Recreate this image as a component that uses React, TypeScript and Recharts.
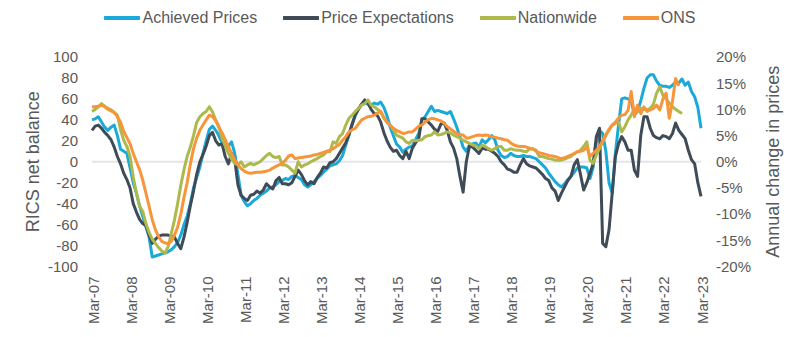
import React from 'react';
import { LineChart, Line, XAxis, YAxis, ReferenceLine, Legend } from 'recharts';

const tickLabels = ['Mar-07','Mar-08','Mar-09','Mar-10','Mar-11','Mar-12','Mar-13','Mar-14','Mar-15','Mar-16','Mar-17','Mar-18','Mar-19','Mar-20','Mar-21','Mar-22','Mar-23'];
const leftTicks = [-100, -80, -60, -40, -20, 0, 20, 40, 60, 80, 100];
const rightTicks = [-20, -15, -10, -5, 0, 5, 10, 15, 20];

// RICS net balance, monthly from Mar-07
const achieved = [
  40, 41, 43, 38, 33, 30, 33, 35, 25, 12, 10, 8,
  -6, -20, -30, -42, -52, -62, -72, -91, -90, -89, -88, -87,
  -86, -84, -81, -77, -70, -60, -52, -40, -25, -15, -5, 8,
  20, 31, 34, 30, 25, 18, 14, 15, 19, 8, -12, -32,
  -38, -42, -40, -37, -35, -32, -30, -28, -25, -24, -22, -19,
  -18, -16, -17, -14, -13, -15, -17, -22, -24, -22, -19, -16,
  -13, -10, -7, -4, -3, -2, 1, 6, 16, 25, 35, 44,
  51, 55, 56, 55, 54, 56, 55, 57, 52, 44, 33, 25,
  17, 14, 9, 12, 14, 15, 21, 27, 40, 43, 48, 53,
  48, 49, 48, 47, 46, 48, 41, 33, 24, 14, 10, 16,
  17, 18, 14, 21, 18, 21, 25, 21, 11, 6, 4, 5,
  8, 6, 5, 5, 6, 5, 5, 4, 3, 0, -3, -6,
  -11, -15, -19, -22, -24, -21, -17, -14, -10, -6, -5, -5,
  -6, -16, -5, 18, 30, 27, 10, -20, -30, 8, 35, 60,
  61, 60, 58, 45, 48, 58, 70, 80, 83, 83, 77, 73,
  72, 72, 71, 73, 76, 75, 79, 73, 76, 67, 62, 52,
  32,
];

const expectations = [
  30, 34, 35, 32, 28, 25, 21, 14, 5, -2, -11, -17,
  -25, -40, -48, -55, -59, -61, -70, -78, -74, -71, -70, -70,
  -70, -71, -72, -78, -83, -72, -58, -42, -28, -12, 0, 7,
  15, 25, 28, 20, 16, 17, 5, -2, 8, 2, -22, -32,
  -35, -37, -32, -31, -28, -30, -27, -21, -24, -26, -18, -15,
  -21, -21, -22, -20, -14, -8, -12, -18, -22, -19, -21, -15,
  -11, -5, -6, -1, 0, 3, 8, 13, 18, 26, 36, 45,
  50, 55, 59, 56, 50, 46, 44, 38, 28, 20, 14, 10,
  11, 6, 3, 10, 3, 13, 18, 22, 41, 41, 38, 35,
  31, 29, 36, 37, 30, 19, 13, 3, -14, -29, 0, 15,
  14, 11, 8, 13, 12, 12, 10, 8, 5, 0, -3, -7,
  -8, -10, -10, -3, 3, -2, -4, -5, -6, -9, -12, -16,
  -18, -25, -28, -37, -30, -24, -18, -14, -3, 2, -12, -27,
  -20, -11, -2, 24, 32, -78, -81, -65, -30, 5, 17, 24,
  19, 11, 11, -8, -14, 25, 43, 43, 32, 25, 23, 22,
  25, 24, 22, 27, 37, 30, 26, 22, 11, 2, -2, -20,
  -33,
];

// Annual change in prices (%)
const nationwide = [
  9.6, 10.0, 10.5, 11.1, 10.6, 10.2, 9.9, 9.4, 8.9, 6.1, 4.1, 2.9,
  1.0, -2.9, -6.0, -8.5, -9.5, -11.8, -13.5, -14.8, -15.6, -16.4, -17.0, -17.5,
  -16.2, -13.7, -11.1, -8.0, -4.5, -1.5, 1.0, 2.8, 5.0, 7.5, 8.6, 9.2,
  9.6, 10.5, 9.5, 8.0, 6.7, 4.5, 3.0, 1.6, 0.5, -0.3, -0.6, 0.0,
  -1.0, -0.6, -0.3, -0.6, -0.3, 0.0, 0.6, 1.2, 1.6, 1.0, 0.8, 1.0,
  -0.6, -0.6, -1.0, -1.6, -2.2, 0.0, -1.0, -0.6, -0.4, 0.0, 0.3, 0.6,
  1.0, 1.3, 1.9, 1.9, 3.8, 3.5, 4.8, 5.4, 7.0, 8.3, 8.9, 9.6,
  10.2, 10.8, 11.1, 11.8, 10.8, 10.5, 10.0, 9.6, 8.3, 7.5, 7.0, 6.1,
  5.1, 4.8, 4.5, 3.8, 3.5, 4.1, 4.0, 4.1, 4.2, 4.8, 5.0, 5.1,
  5.7, 5.1, 5.2, 5.4, 5.7, 5.5, 5.1, 4.8, 4.5, 4.1, 3.8, 3.5,
  3.2, 3.0, 2.5, 3.2, 2.9, 2.5, 2.2, 2.5, 2.9, 2.9, 2.2, 2.2,
  2.5, 2.3, 2.2, 2.2, 2.0, 1.9, 2.5, 2.4, 2.2, 1.0, 1.0, 0.8,
  0.6, 0.5, 0.3, 0.3, 0.3, 0.5, 0.8, 1.0, 1.6, 1.9, 2.2, 2.9,
  3.8, 0.3, -0.3, 1.3, 2.5, 3.8, 5.0, 6.2, 7.0, 7.3, 7.6, 5.7,
  6.7, 8.0, 8.9, 10.2, 9.6, 10.2, 10.0, 9.9, 10.2, 11.0, 13.1, 14.3,
  12.7, 12.0, 11.2, 10.5, 10.0, 9.6, 9.2,
];

const ons = [
  10.5, 10.5, 10.6, 10.8, 10.5, 10.0, 9.7, 9.4, 8.6, 7.6, 5.8, 4.6,
  3.4, 1.6, 0.0, -1.5, -3.5, -6.0, -8.5, -11.1, -13.0, -14.3, -15.2, -15.5,
  -15.6, -15.2, -14.0, -12.5, -10.0, -6.8, -4.0, -0.5, 2.5, 4.5, 6.0, 7.0,
  8.0, 8.9, 8.6, 7.8, 6.6, 5.5, 4.2, 2.9, 1.6, 0.4, -0.6, -1.3,
  -1.8, -2.1, -2.2, -2.1, -2.0, -2.0, -1.9, -1.8, -1.6, -1.2, -0.9, -0.6,
  -0.3, 0.3, 1.1, 1.3, 0.6, 0.7, 0.8, 0.9, 1.0, 1.1, 1.3, 1.4,
  1.6, 1.8, 2.0, 2.2, 2.5, 2.9, 3.3, 4.1, 4.8, 5.7, 6.1, 6.4,
  7.2, 8.0, 8.3, 8.6, 8.7, 8.9, 9.3, 9.6, 8.5, 7.6, 7.0, 6.4,
  6.0, 5.7, 5.4, 5.5, 5.7, 5.7, 6.2, 6.8, 7.0, 7.6, 8.0, 8.3,
  8.2, 8.0, 7.8, 7.4, 6.7, 6.3, 5.8, 5.4, 5.2, 5.1, 4.5, 4.6,
  4.8, 5.0, 5.1, 5.0, 5.1, 5.0, 4.8, 4.7, 4.5, 4.4, 4.2, 4.1,
  3.6, 3.2, 3.0, 2.9, 2.9, 2.8, 2.6, 2.5, 2.0, 1.7, 1.6, 1.4,
  1.2, 1.1, 1.0, 0.8, 0.6, 0.8, 1.0, 1.3, 1.5, 1.9, 2.0, 2.2,
  2.8, 1.0, 1.6, 2.2, 2.9, 4.0, 5.2, 6.0, 7.0, 7.6, 8.3, 8.9,
  9.0, 9.8, 13.4, 8.6, 10.8, 9.2, 10.5, 9.6, 9.9, 10.2, 10.8, 9.9,
  12.0, 13.1, 8.3, 11.5, 15.9, 14.5,
];

const series = [
  { key: 'achieved', name: 'Achieved Prices', color: '#1aa9d9', axis: 'left' },
  { key: 'expectations', name: 'Price Expectations', color: '#3f4c57', axis: 'left' },
  { key: 'nationwide', name: 'Nationwide', color: '#adb94a', axis: 'right' },
  { key: 'ons', name: 'ONS', color: '#f7953b', axis: 'right' },
];

const data = achieved.map((a, i) => ({
  i,
  achieved: a,
  expectations: expectations[i],
  nationwide: i < nationwide.length ? nationwide[i] : null,
  ons: i < ons.length ? ons[i] : null,
}));

const FONT = '"Liberation Sans", Arial, sans-serif';
const TEXT = '#595959';

const LegendContent = () => (
  <div style={{ height: 57, boxSizing: 'border-box', paddingTop: 8, display: 'flex', justifyContent: 'center', alignItems: 'flex-start', fontFamily: FONT, fontSize: 16, color: TEXT }}>
    {series.map((s, k) => (
      <div key={s.key} style={{ display: 'flex', alignItems: 'center', height: 20, marginLeft: k === 0 ? 0 : 26 }}>
        <svg width={36} height={6} style={{ display: 'block' }}>
          <line x1={1} y1={3} x2={35} y2={3} stroke={s.color} strokeWidth={4} strokeLinecap="round" />
        </svg>
        <span style={{ marginLeft: 2, lineHeight: '20px', whiteSpace: 'nowrap' }}>{s.name}</span>
      </div>
    ))}
  </div>
);

const AxisTitle = (text: string, dxFromLeft: number) => (props: any) => {
  const vb = props.viewBox || {};
  const x = (vb.x || 0) + dxFromLeft;
  const y = (vb.y || 0) + (vb.height || 0) / 2;
  return (
    <text x={x} y={y} transform={`rotate(-90, ${x}, ${y})`} textAnchor="middle" dominantBaseline="central" fill={TEXT} fontSize={18} fontFamily={FONT}>
      {text}
    </text>
  );
};

const XTick = (props: any) => {
  const { x, y, payload } = props;
  const tx = x + 1;
  const ty = y + 10;
  return (
    <text x={tx} y={ty} transform={`rotate(-90, ${tx}, ${ty})`} textAnchor="end" dominantBaseline="central" fill={TEXT} fontSize={15} fontFamily={FONT}>
      {tickLabels[Math.round(payload.value / 12)]}
    </text>
  );
};

export default function App() {
  return (
    <div style={{ position: 'absolute', left: 0, top: 0, width: 800, height: 337, background: '#fff' }}>
      <LineChart width={800} height={337} data={data} margin={{ top: 0, right: 0, bottom: 0, left: 0 }}>
        <Legend verticalAlign="top" align="center" content={<LegendContent />} />
        <XAxis
          dataKey="i"
          type="number"
          domain={[0, 192]}
          ticks={tickLabels.map((_, k) => k * 12)}
          interval={0}
          axisLine={false}
          tickLine={false}
          tickSize={0}
          tickMargin={0}
          height={70.5}
          tick={<XTick />}
        />
        <YAxis
          yAxisId="left"
          orientation="left"
          domain={[-100, 100]}
          ticks={leftTicks}
          interval={0}
          width={92}
          axisLine={false}
          tickLine={false}
          tickSize={0}
          tickMargin={14}
          tick={{ fill: TEXT, fontSize: 15, fontFamily: FONT }}
          label={{ content: AxisTitle('RICS net balance', 33) } as any}
        />
        <YAxis
          yAxisId="right"
          orientation="right"
          domain={[-20, 20]}
          ticks={rightTicks}
          interval={0}
          width={99}
          axisLine={false}
          tickLine={false}
          tickSize={0}
          tickMargin={15}
          tickFormatter={(v: number) => `${v}%`}
          tick={{ fill: TEXT, fontSize: 15, fontFamily: FONT }}
          label={{ content: AxisTitle('Annual change in prices', 72) } as any}
        />
        <ReferenceLine yAxisId="left" y={0} stroke="#e4e4ea" strokeWidth={2} />
        {series.map((s) => (
          <Line
            key={s.key}
            yAxisId={s.axis}
            type="linear"
            dataKey={s.key}
            name={s.name}
            stroke={s.color}
            strokeWidth={3}
            dot={false}
            activeDot={false}
            strokeLinejoin="round"
            isAnimationActive={false}
          />
        ))}
      </LineChart>
    </div>
  );
}
